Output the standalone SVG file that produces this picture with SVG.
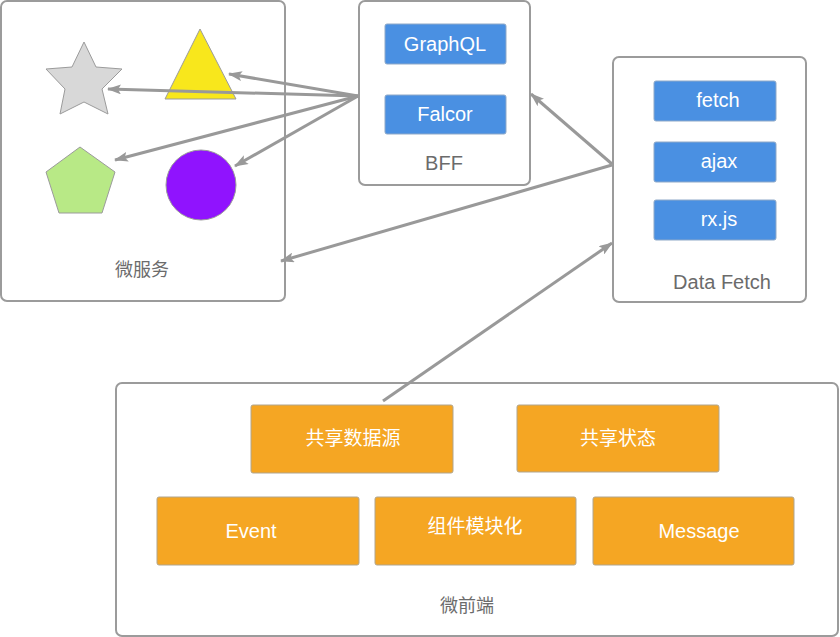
<svg xmlns="http://www.w3.org/2000/svg" width="840" height="637" viewBox="0 0 840 637">
<style>
.frame{fill:#fff;stroke:#9b9b9b;stroke-width:2}
.blue{fill:#4a90e2;stroke:#8fa9c8;stroke-width:1}
.orange{fill:#f5a623;stroke:#b0a58f;stroke-width:1}
.lbl{font-family:"Liberation Sans","Noto Sans CJK SC",sans-serif;font-size:18px;fill:#6b6b6b;text-anchor:middle}
.wt{font-family:"Liberation Sans","Noto Sans CJK SC",sans-serif;font-size:19px;fill:#fff;text-anchor:middle}
.en{font-size:20px}
.conn{stroke:#999;stroke-width:3;fill:none;marker-end:url(#ah)}
.shape{stroke:#9b9b9b;stroke-width:1}
</style>
<defs>
<marker id="ah" markerWidth="14" markerHeight="10" refX="13" refY="5" orient="auto" markerUnits="userSpaceOnUse">
<path d="M0,0 L14,5 L0,10 L3,5 Z" fill="#999"/>
</marker>
</defs>
<rect width="840" height="637" fill="#fff"/>
<g id="micro-services">
<rect class="frame" x="1" y="1" width="284" height="300" rx="6"/>
<polygon class="shape" fill="#d8d8d8" points="84,42 96,67 122,69 102,89 108,114 84,102 60,114 65,89 46,69 72,67"/>
<polygon class="shape" fill="#f8e71c" points="200,29 236,99 165,99"/>
<polygon class="shape" fill="#b8e986" points="80,147 115,172 102,213 59,213 46,172"/>
<circle class="shape" fill="#9013fe" cx="201" cy="185" r="35"/>
<text class="lbl" x="142" y="276">微服务</text>
</g>
<g id="bff">
<rect class="frame" x="359" y="1" width="171" height="184" rx="6"/>
<rect class="blue" x="385" y="24" width="121" height="40" rx="2"/>
<text class="wt en" x="445" y="51">GraphQL</text>
<rect class="blue" x="385" y="95" width="121" height="39" rx="2"/>
<text class="wt en" x="445" y="121">Falcor</text>
<text class="lbl en" x="444" y="170">BFF</text>
</g>
<g id="data-fetch">
<rect class="frame" x="613" y="57" width="193" height="245" rx="6"/>
<rect class="blue" x="654" y="81" width="122" height="40" rx="2"/>
<text class="wt en" x="718" y="107">fetch</text>
<rect class="blue" x="654" y="142" width="122" height="40" rx="2"/>
<text class="wt en" x="719" y="168">ajax</text>
<rect class="blue" x="654" y="200" width="122" height="40" rx="2"/>
<text class="wt en" x="719" y="226">rx.js</text>
<text class="lbl en" x="722" y="289">Data Fetch</text>
</g>
<g id="micro-frontend">
<rect class="frame" x="116" y="383" width="722" height="253" rx="6"/>
<rect class="orange" x="251" y="405" width="202" height="68" rx="2"/>
<text class="wt" x="353" y="445">共享数据源</text>
<rect class="orange" x="517" y="405" width="202" height="67" rx="2"/>
<text class="wt" x="618" y="445">共享状态</text>
<rect class="orange" x="157" y="497" width="202" height="68" rx="2"/>
<text class="wt en" x="251" y="538">Event</text>
<rect class="orange" x="375" y="497" width="201" height="68" rx="2"/>
<text class="wt" x="475" y="533">组件模块化</text>
<rect class="orange" x="593" y="497" width="201" height="68" rx="2"/>
<text class="wt en" x="699" y="538">Message</text>
<text class="lbl" x="467" y="612">微前端</text>
</g>
<g id="connectors">
<line class="conn" x1="358" y1="96" x2="229" y2="74"/>
<line class="conn" x1="358" y1="96" x2="108" y2="89"/>
<line class="conn" x1="358" y1="96" x2="115" y2="160"/>
<line class="conn" x1="358" y1="96" x2="235" y2="166"/>
<line class="conn" x1="612" y1="164" x2="531" y2="94"/>
<line class="conn" x1="612" y1="165" x2="281" y2="261"/>
<line class="conn" x1="383" y1="401" x2="612" y2="243"/>
</g>
</svg>
